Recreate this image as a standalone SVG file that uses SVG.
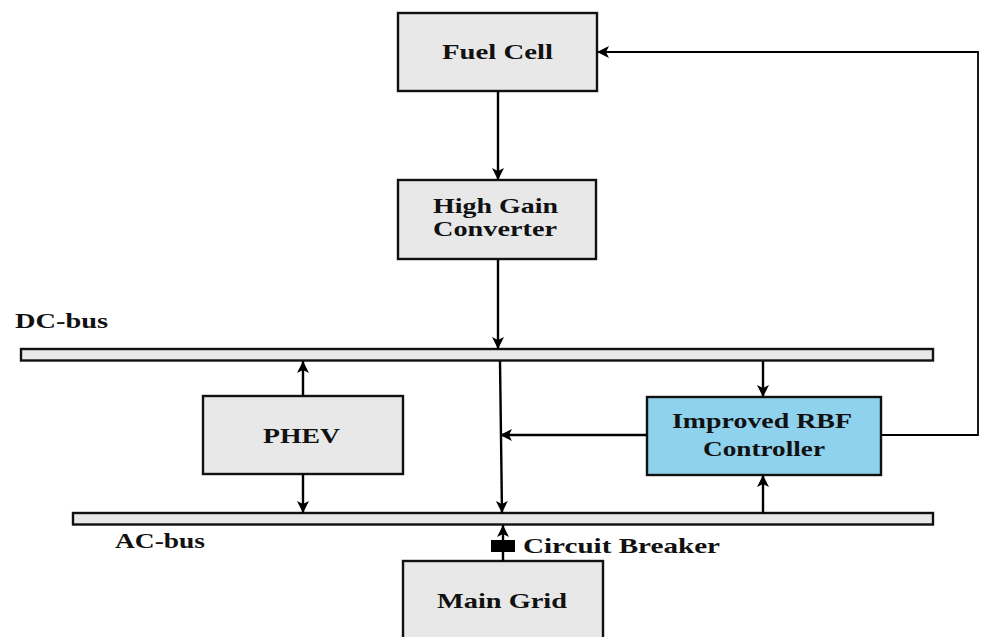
<svg xmlns="http://www.w3.org/2000/svg" width="981" height="637" viewBox="0 0 981 637">
<defs>
<marker id="ah" markerUnits="userSpaceOnUse" markerWidth="14" markerHeight="14" refX="12" refY="7" orient="auto">
<path d="M0,1 L12,7 L0,13 L3,7 z" fill="#000"/>
</marker>
<style>
.box{fill:#E8E8E8;stroke:#111;stroke-width:2.4}
.bus{fill:#E8E8E8;stroke:#111;stroke-width:2.4}
.rbf{fill:#8ED2EE;stroke:#111;stroke-width:2.4}
.t{font-family:"Liberation Serif","Times New Roman",serif;font-weight:bold;font-size:21px;fill:#111}
.c{fill:none;stroke:#000;stroke-width:2.4;marker-end:url(#ah)}
</style>
</defs>
<rect width="981" height="637" fill="#fff"/>

<g id="dc-bus">
<rect class="bus" x="21" y="349" width="912" height="11.5"/>
<text class="t" x="15" y="328" textLength="93" lengthAdjust="spacingAndGlyphs">DC-bus</text>
</g>
<g id="ac-bus">
<rect class="bus" x="73" y="513" width="860" height="11.5"/>
<text class="t" x="115" y="548" textLength="90" lengthAdjust="spacingAndGlyphs">AC-bus</text>
</g>

<g id="fuel-cell">
<rect class="box" x="398" y="13" width="199" height="78"/>
<text class="t" x="442" y="59" textLength="111" lengthAdjust="spacingAndGlyphs">Fuel Cell</text>
</g>
<g id="high-gain-converter">
<rect class="box" x="398" y="180" width="198" height="79"/>
<text class="t" x="433" y="213" textLength="125" lengthAdjust="spacingAndGlyphs">High Gain</text>
<text class="t" x="433" y="236" textLength="124" lengthAdjust="spacingAndGlyphs">Converter</text>
</g>
<g id="phev">
<rect class="box" x="203" y="396" width="200" height="78"/>
<text class="t" x="263" y="443" textLength="77" lengthAdjust="spacingAndGlyphs">PHEV</text>
</g>
<g id="rbf-controller">
<rect class="rbf" x="647" y="397" width="234" height="78"/>
<text class="t" x="672" y="428" textLength="180" lengthAdjust="spacingAndGlyphs">Improved RBF</text>
<text class="t" x="703" y="456" textLength="122" lengthAdjust="spacingAndGlyphs">Controller</text>
</g>
<g id="main-grid">
<rect class="box" x="403" y="561" width="200" height="90"/>
<text class="t" x="437" y="608" textLength="130" lengthAdjust="spacingAndGlyphs">Main Grid</text>
</g>
<g id="circuit-breaker">
<rect x="491" y="540" width="24" height="12" fill="#000"/>
<text class="t" x="523" y="553" textLength="197" lengthAdjust="spacingAndGlyphs">Circuit Breaker</text>
</g>

<g id="connectors">
<path class="c" d="M498,91 L498,180"/>
<path class="c" d="M498,259 L498,349"/>
<path class="c" d="M303,396 L303,361"/>
<path class="c" d="M303,474 L303,513"/>
<path class="c" d="M500,361 L502,513"/>
<path class="c" d="M647,435 L500,435"/>
<path class="c" d="M763,361 L763,397"/>
<path class="c" d="M763,513 L763,475"/>
<path class="c" d="M881,435 L978,435 L978,52 L597,52" style="stroke-width:1.8"/>
<path class="c" d="M503,561 L503,525"/>
</g>
</svg>
